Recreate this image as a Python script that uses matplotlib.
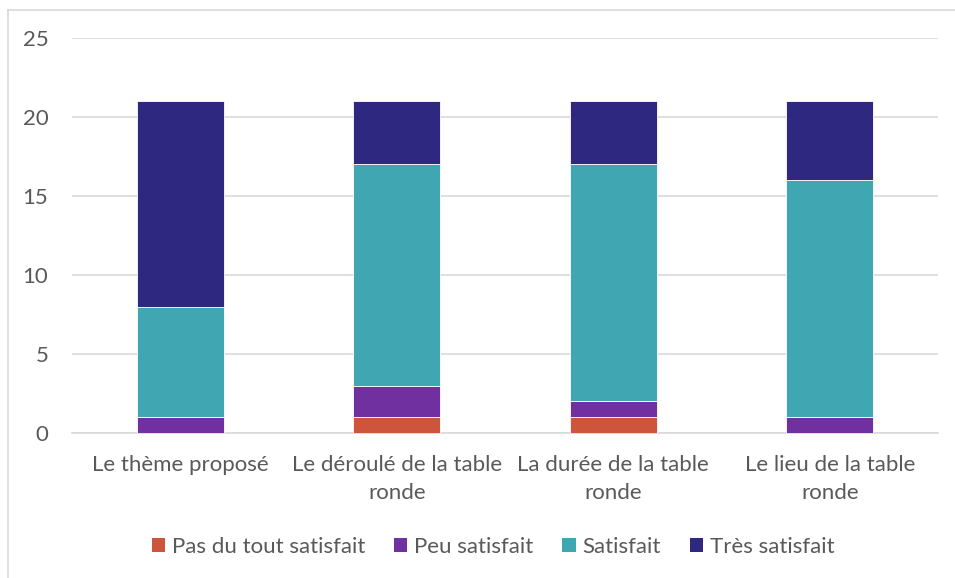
import numpy as np
import matplotlib
matplotlib.use("Agg")
import matplotlib.pyplot as plt
from matplotlib.lines import Line2D
from matplotlib.patches import Patch

plt.rcParams["font.family"] = ["Lato", "DejaVu Sans"]

categories = ["Le thème proposé", "Le déroulé de la table\nronde",
              "La durée de la table\nronde", "Le lieu de la table\nronde"]
series = ["Pas du tout satisfait", "Peu satisfait", "Satisfait", "Très satisfait"]
pas_du_tout = [0, 1, 1, 0]
peu = [1, 2, 1, 1]
satisfait = [7, 14, 15, 15]
tres = [13, 4, 4, 5]
colors = ["#CC553B", "#7030A0", "#3FA6B2", "#2E2880"]

fig = plt.figure(figsize=(9.55, 5.78), dpi=100)
ax = fig.add_axes([72 / 955, 1 - 433 / 578, 866 / 955, 395 / 578])

x = np.arange(len(categories))
bottom = np.zeros(len(categories))
for name, vals, col in zip(series, [pas_du_tout, peu, satisfait, tres], colors):
    ax.bar(x, vals, 0.4, bottom=bottom, color=col, edgecolor="white",
           linewidth=0.6, label=name, zorder=3)
    bottom += np.array(vals)

ax.set_xlim(-0.5, 3.5)
ax.set_ylim(0, 25)
ax.set_yticks([0, 5, 10, 15, 20, 25])
ax.grid(axis="y", color="#D9D9D9", linewidth=1.2, zorder=0)
for s in ["top", "right", "left"]:
    ax.spines[s].set_visible(False)
ax.spines["bottom"].set_color("#D9D9D9")
ax.spines["bottom"].set_linewidth(1.2)
ax.tick_params(axis="both", length=0, labelsize=16, labelcolor="#595959")
ax.tick_params(axis="y", pad=17)
ax.tick_params(axis="x", pad=16)
ax.set_xticks(x)
ax.set_xticklabels(categories, linespacing=1.5)

handles = [Patch(facecolor=c, edgecolor="none") for c in colors]
fig.legend(handles, series, loc="center", bbox_to_anchor=(493 / 955, 1 - 547 / 578),
           ncol=4, frameon=False, fontsize=16, labelcolor="#595959",
           handlelength=0.6, handleheight=0.6, handletextpad=0.3, columnspacing=1.3)

# chart frame (top and left edges visible)
fig.add_artist(Line2D([7.5 / 955, 1], [1 - 9.5 / 578, 1 - 9.5 / 578],
                      color="#D9D9D9", lw=1.2, transform=fig.transFigure))
fig.add_artist(Line2D([7.5 / 955, 7.5 / 955], [0, 1 - 9.5 / 578],
                      color="#D9D9D9", lw=1.2, transform=fig.transFigure))

fig.savefig("out.png", dpi=100)
